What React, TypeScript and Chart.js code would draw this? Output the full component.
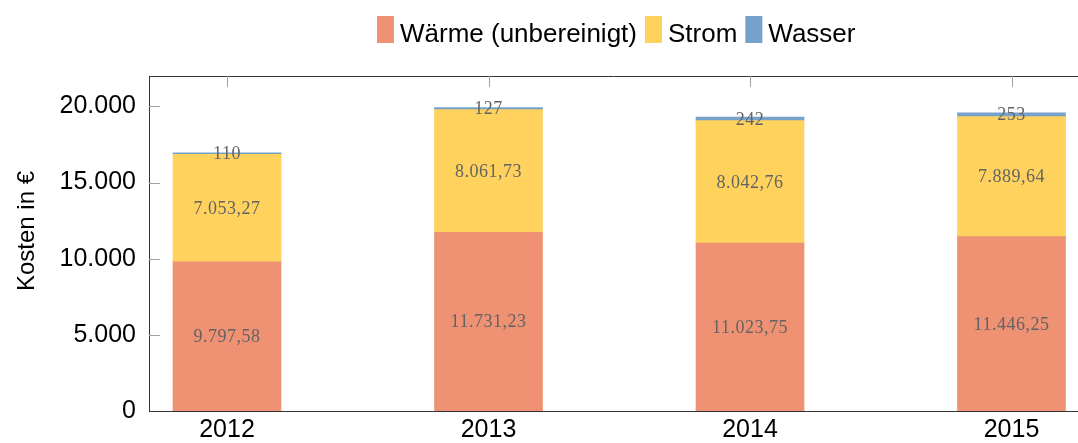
import React, { useEffect, useRef } from 'react';
import { Chart, registerables } from 'chart.js';

Chart.register(...registerables);

// ---- data ----
const years = [2012, 2013, 2014, 2015];
const waerme = [9797.58, 11731.23, 11023.75, 11446.25];
const strom = [7053.27, 8061.73, 8042.76, 7889.64];
const wasser = [110, 127, 242, 253];
const seriesLabels = ['Wärme (unbereinigt)', 'Strom', 'Wasser'];
const seriesDecimals = [2, 2, 0];
const yTickValues = [0, 5000, 10000, 15000, 20000];
const yAxisTitle = 'Kosten in €';

function fmtDE(v: number, dec: number): string {
  const s = v.toFixed(dec);
  const [intPart, frac] = s.split('.');
  const withDots = intPart.replace(/\B(?=(\d{3})+(?!\d))/g, '.');
  return frac ? withDots + ',' + frac : withDots;
}

const SANS = '"Liberation Sans", Arial, Helvetica, sans-serif';
const SERIF = '"Liberation Serif", "Times New Roman", serif';

const decorPlugin = {
  id: 'decor',
  afterDatasetsDraw(chart: any) {
    const ctx = chart.ctx as CanvasRenderingContext2D;
    ctx.save();
    ctx.font = `18px ${SERIF}`;
    (ctx as any).letterSpacing = '0.5px';
    ctx.fillStyle = '#636363';
    ctx.textAlign = 'center';
    ctx.textBaseline = 'middle';
    chart.data.datasets.forEach((ds: any, i: number) => {
      const meta = chart.getDatasetMeta(i);
      meta.data.forEach((bar: any, j: number) => {
        const { x, y, base } = bar.getProps(['x', 'y', 'base'], true);
        const raw = ds.data[j].y;
        ctx.fillText(fmtDE(raw, seriesDecimals[i]), x, (y + base) / 2 + 1);
      });
    });
    ctx.restore();
  },
  afterDraw(chart: any) {
    const ctx = chart.ctx as CanvasRenderingContext2D;
    const { left, right, top } = chart.chartArea;
    ctx.save();
    // top frame line
    ctx.strokeStyle = '#333';
    ctx.lineWidth = 1;
    ctx.beginPath();
    ctx.moveTo(left, top + 0.5);
    ctx.lineTo(right, top + 0.5);
    ctx.stroke();
    // inward ticks
    ctx.strokeStyle = '#a0a0a0';
    const xs = chart.scales.x;
    years.forEach((yr) => {
      const px = Math.round(xs.getPixelForValue(yr)) + 0.5;
      ctx.beginPath();
      ctx.moveTo(px, top);
      ctx.lineTo(px, top + 11);
      ctx.stroke();
    });
    const ys = chart.scales.y;
    yTickValues.forEach((v) => {
      if (v === 0) return;
      const py = Math.round(ys.getPixelForValue(v)) + 0.5;
      ctx.beginPath();
      ctx.moveTo(left, py);
      ctx.lineTo(left + 11, py);
      ctx.stroke();
    });
    // legend
    ctx.font = `26px ${SANS}`;
    ctx.textAlign = 'left';
    ctx.textBaseline = 'alphabetic';
    let lx = 377;
    chart.data.datasets.forEach((ds: any) => {
      ctx.fillStyle = ds.backgroundColor;
      ctx.fillRect(lx, 16, 17, 27);
      lx += 17 + 6;
      ctx.fillStyle = '#000';
      ctx.fillText(ds.label, lx, 41.5);
      lx += ctx.measureText(ds.label).width + 8;
    });
    // y axis title
    ctx.font = `24px ${SANS}`;
    ctx.textAlign = 'center';
    ctx.textBaseline = 'middle';
    ctx.translate(27, 231);
    ctx.rotate(-Math.PI / 2);
    ctx.fillText(yAxisTitle, 0, 0);
    ctx.restore();
  },
};

export default function App() {
  const ref = useRef<HTMLCanvasElement | null>(null);

  useEffect(() => {
    if (!ref.current) return;
    const mk = (vals: number[]) => years.map((yr, i) => ({ x: yr, y: vals[i] }));
    const chart = new Chart(ref.current, {
      type: 'bar',
      data: {
        datasets: [
          { label: seriesLabels[0], data: mk(waerme), backgroundColor: '#EF9173', barThickness: 108, borderWidth: 0 },
          { label: seriesLabels[1], data: mk(strom), backgroundColor: '#FED25C', barThickness: 108, borderWidth: 0 },
          { label: seriesLabels[2], data: mk(wasser), backgroundColor: '#76A1CB', barThickness: 108, borderWidth: 0 },
        ] as any,
      },
      options: {
        animation: false,
        responsive: true,
        maintainAspectRatio: false,
        layout: { padding: { top: 76, left: 0, right: 0, bottom: 0 } },
        plugins: {
          legend: { display: false },
          tooltip: { enabled: false },
        },
        scales: {
          x: {
            type: 'linear',
            stacked: true,
            offset: false,
            min: 2011.7017,
            max: 2015.2543,
            afterBuildTicks: (scale: any) => {
              scale.ticks = years.map((v) => ({ value: v }));
            },
            afterFit: (scale: any) => {
              scale.height = 32;
            },
            grid: { display: false, drawTicks: false, offset: false },
            border: { display: true, color: '#333', width: 1 },
            ticks: {
              color: '#000',
              font: { family: SANS, size: 25 },
              padding: 4,
              maxRotation: 0,
              autoSkip: false,
              callback: (v: any) => String(v),
            },
          },
          y: {
            type: 'linear',
            stacked: true,
            min: 0,
            max: 22000,
            afterBuildTicks: (scale: any) => {
              scale.ticks = yTickValues.map((v) => ({ value: v }));
            },
            afterFit: (scale: any) => {
              scale.width = 149;
            },
            grid: { display: false, drawTicks: false },
            border: { display: true, color: '#333', width: 1 },
            ticks: {
              color: '#000',
              font: { family: SANS, size: 25 },
              padding: 13,
              callback: (v: any) => fmtDE(Number(v), 0),
            },
          },
        },
      } as any,
      plugins: [decorPlugin],
    });
    return () => chart.destroy();
  }, []);

  return (
    <div style={{ position: 'absolute', left: 0, top: 0, width: 1078, height: 443, background: '#fff' }}>
      <canvas ref={ref} />
    </div>
  );
}
